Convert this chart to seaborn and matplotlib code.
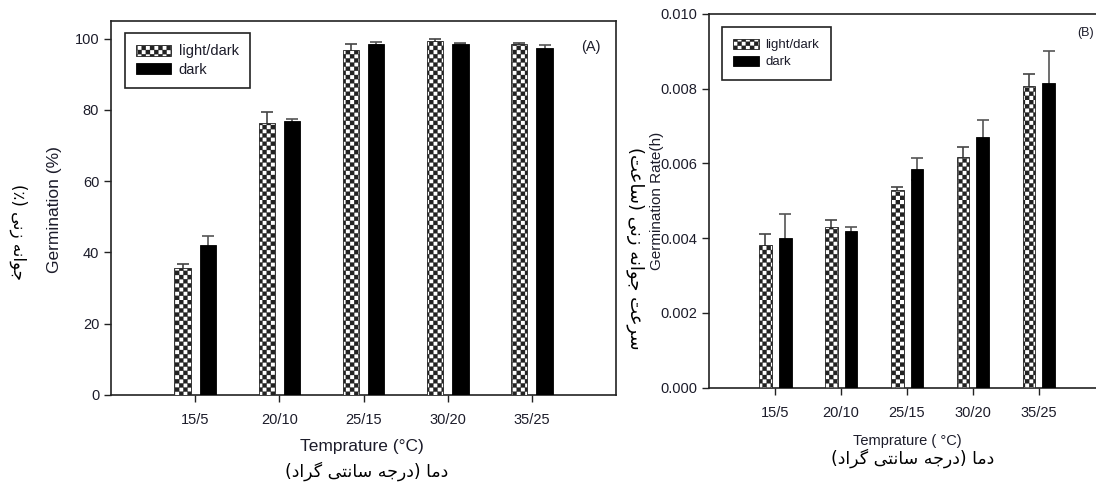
import warnings
warnings.filterwarnings("ignore")
import numpy as np
import pandas as pd
import matplotlib
matplotlib.use("Agg")
import matplotlib.pyplot as plt
import matplotlib.hatch as mhatch
from matplotlib.path import Path
import seaborn as sns

# ---------------- data ----------------
temps = ['15/5', '20/10', '25/15', '30/20', '35/25']
conditions = ['light/dark', 'dark']
germ_light = [35.5, 76.4, 96.7, 99.4, 98.5]
germ_light_err = [1.2, 3.1, 1.9, 0.6, 0.2]
germ_dark = [42.0, 76.8, 98.6, 98.5, 97.4]
germ_dark_err = [2.6, 0.5, 0.5, 0.15, 0.9]
rate_light = [0.00382, 0.00431, 0.00529, 0.00618, 0.00807]
rate_light_err = [0.00029, 0.00017, 0.00008, 0.00027, 0.00033]
rate_dark = [0.00400, 0.00420, 0.00585, 0.00671, 0.00814]
rate_dark_err = [0.00064, 0.00010, 0.00029, 0.00046, 0.00088]
yticks_a = [0, 20, 40, 60, 80, 100]
yticks_b = [0.000, 0.002, 0.004, 0.006, 0.008, 0.010]

fa_ylab_a = "جوانه زنی (٪)"
fa_ylab_b = "سرعت جوانه زنی (ساعت)"
fa_xlab = "دما (درجه سانتی گراد)"

# ---------------- checkerboard hatch ----------------
class CheckerHatch(mhatch.HatchPatternBase):
    def __init__(self, hatch, density):
        self.n = hatch.count('*') * 6
        if self.n:
            self.cells = [(i, j) for i in range(self.n) for j in range(self.n) if (i + j) % 2 == 0]
        else:
            self.cells = []
        self.num_vertices = len(self.cells) * 5

    def set_vertices_and_codes(self, vertices, codes):
        s = 1.0 / self.n
        for k, (i, j) in enumerate(self.cells):
            x0, y0 = i * s, j * s
            vertices[5 * k:5 * k + 5] = [[x0, y0], [x0 + s, y0], [x0 + s, y0 + s], [x0, y0 + s], [x0, y0]]
            codes[5 * k] = Path.MOVETO
            codes[5 * k + 1:5 * k + 4] = Path.LINETO
            codes[5 * k + 4] = Path.CLOSEPOLY

mhatch._hatch_types[:] = [t for t in mhatch._hatch_types if t is not mhatch.Stars] + [CheckerHatch]
CHECK = '****'

# ---------------- Persian shaping ----------------
FORMS = {
    'ا': ('\uFE8D', '\uFE8E'), 'د': ('\uFEA9', '\uFEAA'), 'ر': ('\uFEAD', '\uFEAE'),
    'ز': ('\uFEAF', '\uFEB0'), 'و': ('\uFEED', '\uFEEE'),
    'ج': ('\uFE9D', '\uFE9E', '\uFE9F', '\uFEA0'), 'ن': ('\uFEE5', '\uFEE6', '\uFEE7', '\uFEE8'),
    'ه': ('\uFEE9', '\uFEEA', '\uFEEB', '\uFEEC'), 'ی': ('\uFEEF', '\uFEF0', '\uFEF3', '\uFEF4'),
    'س': ('\uFEB1', '\uFEB2', '\uFEB3', '\uFEB4'), 'ع': ('\uFEC9', '\uFECA', '\uFECB', '\uFECC'),
    'ت': ('\uFE95', '\uFE96', '\uFE97', '\uFE98'), 'م': ('\uFEE1', '\uFEE2', '\uFEE3', '\uFEE4'),
    'گ': ('\uFB92', '\uFB93', '\uFB94', '\uFB95'),
}

def fa(text):
    out = []
    for k, c in enumerate(text):
        if c not in FORMS:
            out.append(c)
            continue
        prev = text[k - 1] if k > 0 else ''
        nxt = text[k + 1] if k + 1 < len(text) else ''
        jp = prev in FORMS and len(FORMS[prev]) == 4
        jn = len(FORMS[c]) == 4 and nxt in FORMS
        f = FORMS[c]
        if jp and jn:
            out.append(f[3])
        elif jp:
            out.append(f[1])
        elif jn:
            out.append(f[2])
        else:
            out.append(f[0])
    vis = ''.join(reversed(out))
    return vis.translate(str.maketrans('()', ')('))

# ---------------- style ----------------
sns.set_style("ticks")
NARROW = ['Liberation Sans Narrow', 'Liberation Sans', 'DejaVu Sans']
plt.rcParams['font.family'] = NARROW
plt.rcParams['hatch.linewidth'] = 0.2
INK = '#1c1c2a'
FA_FONT = ['DejaVu Sans']

fig = plt.figure(figsize=(10.96, 4.84), dpi=100)
ax_a = fig.add_axes([0.1013, 0.1839, 0.4608, 0.7733])
ax_b = fig.add_axes([0.6472, 0.1990, 0.3608, 0.7721])


def panel(ax, light, light_err, dark, dark_err, yticks, ylim, ytickfmt):
    df = pd.DataFrame({
        'temp': temps * 2,
        'cond': [conditions[0]] * len(temps) + [conditions[1]] * len(temps),
        'value': list(light) + list(dark),
    })
    sns.barplot(data=df, x='temp', y='value', hue='cond', order=temps, hue_order=conditions,
                palette={conditions[0]: 'white', conditions[1]: 'black'},
                width=0.6, gap=0.35, errorbar=None, legend=False, ax=ax, zorder=3)
    for p in ax.containers[0]:
        p.set_hatch(CHECK)
        p.set_edgecolor('#222222')
        p.set_linewidth(0.6)
    for p in ax.containers[1]:
        p.set_edgecolor('black')
        p.set_linewidth(0.6)
    for cont, vals, errs, col in [(ax.containers[0], light, light_err, '#444444'),
                                   (ax.containers[1], dark, dark_err, '#555555')]:
        xs = [p.get_x() + p.get_width() / 2 for p in cont]
        ax.errorbar(xs, vals, yerr=errs, fmt='none', ecolor=col, elinewidth=1.2,
                    capsize=4, capthick=1.2, zorder=2)
    ax.set_xlim(-1, len(temps))
    ax.set_ylim(*ylim)
    ax.set_yticks(yticks)
    ax.set_yticklabels([ytickfmt(v) for v in yticks])
    ax.tick_params(axis='both', direction='out', length=5, width=1, colors='#222222',
                   labelcolor=INK, labelsize=10.5)
    ax.tick_params(axis='x', pad=8)
    for s in ax.spines.values():
        s.set_visible(True)
        s.set_linewidth(1.2)
        s.set_color('#222222')
    ax.set_xlabel('')
    ax.set_ylabel('')


panel(ax_a, germ_light, germ_light_err, germ_dark, germ_dark_err, yticks_a, (0, 105),
      lambda v: f"{v:d}")
panel(ax_b, rate_light, rate_light_err, rate_dark, rate_dark_err, yticks_b, (0, 0.010),
      lambda v: f"{v:.3f}")

# legends
leg_a = ax_a.legend(ax_a.containers, conditions, loc='upper left', bbox_to_anchor=(0.027, 0.968),
                    frameon=True, fancybox=False, framealpha=1, edgecolor='#222222',
                    fontsize=10.5, handlelength=2.4, handleheight=0.75, labelspacing=0.3,
                    borderpad=0.8, handletextpad=0.5, borderaxespad=0)
leg_a.get_frame().set_linewidth(1.2)
for t in leg_a.get_texts():
    t.set_color(INK)
leg_b = ax_b.legend(ax_b.containers, conditions, loc='upper left', bbox_to_anchor=(0.031, 0.966),
                    frameon=True, fancybox=False, framealpha=1, edgecolor='#222222',
                    fontsize=9.5, handlelength=1.9, handleheight=0.8, labelspacing=0.35,
                    borderpad=0.9, handletextpad=0.5, borderaxespad=0)
leg_b.get_frame().set_linewidth(1.2)
for t in leg_b.get_texts():
    t.set_color(INK)

# panel tags
ax_a.text(0.95, 0.93, '(A)', transform=ax_a.transAxes, fontsize=10.5, color=INK, ha='center', va='center')
fig.text(1086 / 1096, 1 - 33 / 484, '(B)', fontsize=9, color=INK, ha='center', va='center')

# axis labels (figure pixel coords)
def ftext(x, y, s, **kw):
    fig.text(x / 1096, 1 - y / 484, s, ha='center', va='center', **kw)

ftext(55, 210, 'Germination (%)', rotation=90, fontsize=12.5, color=INK,
      family=['Liberation Sans', 'DejaVu Sans'])
ftext(18, 232, fa(fa_ylab_a), rotation=270, fontsize=12, color='black', family=FA_FONT)
ftext(362, 446, 'Temprature (°C)', fontsize=12.5, color=INK, family=['Liberation Sans', 'DejaVu Sans'])
ftext(367, 471, fa(fa_xlab), fontsize=12.5, color='black', family=FA_FONT)

ftext(657, 201, 'Germination Rate(h)', rotation=90, fontsize=11, color=INK,
      family=['Liberation Sans', 'DejaVu Sans'])
ftext(635, 248, fa(fa_ylab_b), rotation=270, fontsize=13, color='black', family=FA_FONT)
ftext(907, 441, 'Temprature ( °C)', fontsize=10.5, color=INK, family=['Liberation Sans', 'DejaVu Sans'])
ftext(913, 458, fa(fa_xlab), fontsize=12.5, color='black', family=FA_FONT)

fig.savefig('out.png', dpi=100)
